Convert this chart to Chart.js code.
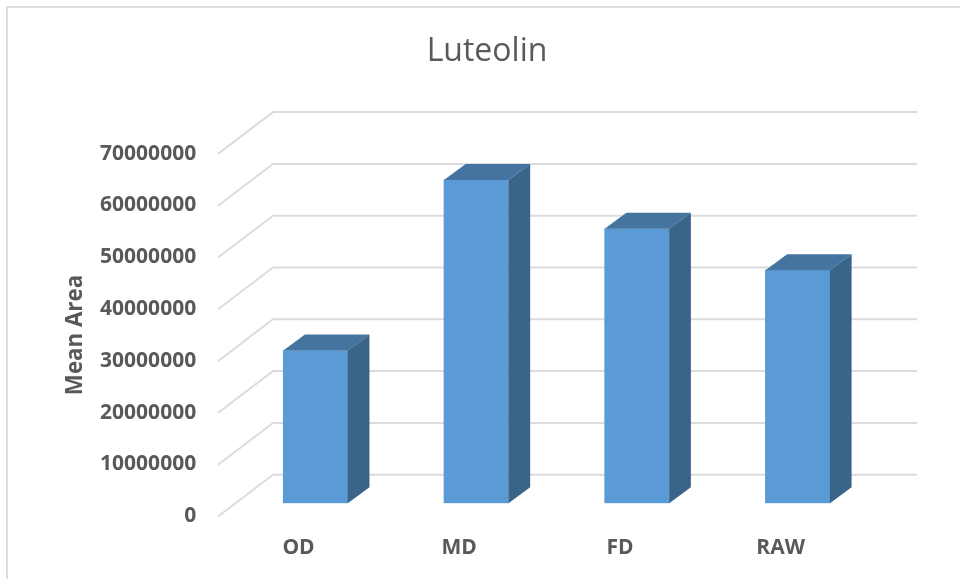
<!DOCTYPE html>
<html>
<head>
<meta charset="utf-8">
<title>Luteolin</title>
<style>
  html, body { margin: 0; padding: 0; background: #ffffff; }
  canvas { display: block; }
</style>
<script src="https://cdn.jsdelivr.net/npm/chart.js@4"></script>
</head>
<body>
<canvas id="chart" width="960" height="579"></canvas>
<script>
const categories = ['OD', 'MD', 'FD', 'RAW'];
const meanArea = [29500000, 62400000, 53000000, 45000000];
const axisMax = 70000000;
const axisStep = 10000000;

const TEXT = '#595959';
const GRID = '#dcdcdc';
const FRONT = '#5b9bd5';
const TOP_FACE = '#44749f';
const SIDE_FACE = '#3a6488';
const FONT = '"Open Sans", sans-serif';

// Pseudo-3D depth, in pixels, measured from the plane of the bar fronts.
const barDepth = { x: 21.7, y: 16 };
const wall = { frontX: 218, frontDrop: 13.2, backX: 273, backRise: 28.6, rightX: 917 };

const frameAndWalls = {
  id: 'frameAndWalls',
  beforeDraw(chart) {
    const { ctx } = chart;
    ctx.save();
    ctx.strokeStyle = GRID;
    ctx.lineWidth = 2;
    ctx.beginPath();
    ctx.moveTo(7, 585);
    ctx.lineTo(7, 7);
    ctx.lineTo(965, 7);
    ctx.stroke();
    ctx.restore();
  },
  beforeDatasetsDraw(chart) {
    const { ctx, scales: { y } } = chart;
    ctx.save();
    ctx.strokeStyle = GRID;
    ctx.lineWidth = 2;
    ctx.lineJoin = 'miter';
    y.ticks.forEach(tick => {
      const p = y.getPixelForValue(tick.value);
      ctx.beginPath();
      ctx.moveTo(wall.frontX, p + wall.frontDrop);
      ctx.lineTo(wall.backX, p - wall.backRise);
      ctx.lineTo(wall.rightX, p - wall.backRise);
      ctx.stroke();
    });
    ctx.restore();
  },
  afterDatasetsDraw(chart) {
    const { ctx } = chart;
    const { x: dx, y: dy } = barDepth;
    ctx.save();
    chart.getDatasetMeta(0).data.forEach(bar => {
      const left = bar.x - bar.width / 2;
      const right = bar.x + bar.width / 2;
      // top face
      ctx.fillStyle = TOP_FACE;
      ctx.beginPath();
      ctx.moveTo(left, bar.y);
      ctx.lineTo(left + dx, bar.y - dy);
      ctx.lineTo(right + dx, bar.y - dy);
      ctx.lineTo(right, bar.y);
      ctx.closePath();
      ctx.fill();
      // side face
      ctx.fillStyle = SIDE_FACE;
      ctx.beginPath();
      ctx.moveTo(right, bar.y);
      ctx.lineTo(right + dx, bar.y - dy);
      ctx.lineTo(right + dx, bar.base - dy);
      ctx.lineTo(right, bar.base);
      ctx.closePath();
      ctx.fill();
    });
    // value axis title
    ctx.translate(76, 335);
    ctx.rotate(-Math.PI / 2);
    ctx.fillStyle = TEXT;
    ctx.font = 'bold 22.3px ' + FONT;
    ctx.textAlign = 'center';
    ctx.textBaseline = 'middle';
    ctx.fillText('Mean Area', 0, 0);
    ctx.restore();
  }
};

new Chart(document.getElementById('chart'), {
  type: 'bar',
  data: {
    labels: categories,
    datasets: [{
      label: 'Mean Area',
      data: meanArea,
      backgroundColor: FRONT,
      borderWidth: 0,
      barThickness: 64.5
    }]
  },
  options: {
    responsive: false,
    animation: false,
    layout: { padding: { left: 96, right: 82, top: 0, bottom: 0 } },
    plugins: {
      legend: { display: false },
      tooltip: { enabled: false },
      title: {
        display: true,
        text: 'Luteolin',
        color: TEXT,
        font: { family: FONT, size: 32, weight: 'normal', lineHeight: 1.2 },
        padding: { top: 33, bottom: 69.3 }
      }
    },
    scales: {
      x: {
        grid: { display: false },
        border: { display: false },
        ticks: {
          color: TEXT,
          font: { family: FONT, size: 21, weight: 'bold' },
          padding: 24,
          labelOffset: -17,
          maxRotation: 0
        },
        afterFit(scale) { scale.height = 75.7; }
      },
      y: {
        min: 0,
        max: axisMax,
        grid: { display: false, drawTicks: false },
        border: { display: false },
        ticks: {
          stepSize: axisStep,
          autoSkip: false,
          color: TEXT,
          font: { family: FONT, size: 21, weight: 'bold' },
          padding: 39,
          labelOffset: 13,
          callback: value => String(value)
        },
        afterFit(scale) { scale.width = 139.15; }
      }
    }
  },
  plugins: [frameAndWalls]
});
</script>
</body>
</html>
